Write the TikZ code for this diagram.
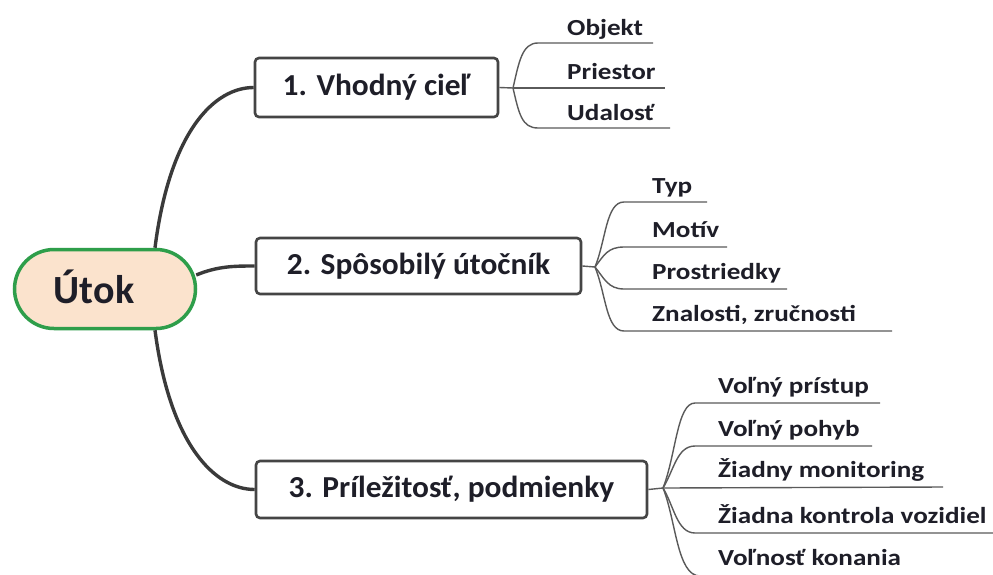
\documentclass[tikz,border=0pt]{standalone}
\usepackage{fontspec}
\setmainfont{Carlito}
\newfontfamily\leaffont{Carlito}[FakeStretch=1.18]
\newfontfamily\boxfont{Carlito}[FakeStretch=1.03]
\usetikzlibrary{shapes.misc,calc}
\definecolor{rootfill}{HTML}{FBE3CD}
\definecolor{rootline}{HTML}{2E9E4A}
\definecolor{boxline}{HTML}{454545}
\definecolor{mainline}{HTML}{3A3A3A}
\definecolor{leafline}{HTML}{5A5A5A}
\definecolor{txt}{HTML}{1E1E28}
\tikzset{
  rootbox/.style={rounded rectangle, draw=rootline, line width=3.5pt, fill=rootfill,
    minimum width=181pt, minimum height=79pt, inner sep=0pt},
  roottxt/.style={font=\fontsize{40}{42}\selectfont\bfseries, text=txt, inner sep=0pt},
  topicbox/.style={draw=boxline, line width=2.6pt, rounded corners=4pt, fill=white,
    inner sep=0pt, font=\boxfont\fontsize{30.5}{32}\selectfont\bfseries, text=txt},
  mainconn/.style={draw=mainline, line width=3.4pt},
  leaf/.style={draw=leafline, line width=1.4pt},
  leaftxt/.style={anchor=base west, inner sep=0pt, font=\leaffont\fontsize{23}{25}\selectfont\bfseries, text=txt}
}
\begin{document}
\begin{tikzpicture}[x=1pt,y=-1pt]
\useasboundingbox[fill=white] (0,0) rectangle (993,574);

% root
\node[rootbox] (root) at (105,289) {};
\node[roottxt] (roottext) at (94,287) {Útok};

% topic boxes
\node[topicbox, minimum width=243pt, minimum height=59pt] (b1) at (376.5,87.5) {1. Vhodný cieľ};
\node[topicbox, minimum width=325pt, minimum height=56pt] (b2) at (418.5,266) {2. Spôsobilý útočník};
\node[topicbox, minimum width=391pt, minimum height=57pt] (b3) at (451.5,489.5) {3. Príležitosť, podmienky};

% main connectors
\draw[mainconn] ($(root.north)+(50,0)$) .. controls (170,130) and (215,87.5) .. (b1.west);
\draw[mainconn] ($(root.east)+(-1,-14)$) .. controls (218,266) and (235,266) .. (b2.west);
\draw[mainconn] ($(root.south)+(50,0)$) .. controls (170,445) and (215,489.5) .. (b3.west);

% ---- group 1
\coordinate (f1) at (513,88);
\coordinate (s11) at (538,43);  \coordinate (e11) at (653,43);
\coordinate (e12) at (665,88);
\coordinate (s13) at (538,128); \coordinate (e13) at (670,128);
\draw[leaf] (b1.east) -- (f1);
\draw[leaf] (f1) .. controls (519,62) and (522,43) .. (s11) -- (e11);
\draw[leaf] (f1) -- (e12);
\draw[leaf] (f1) .. controls (519,114) and (522,128) .. (s13) -- (e13);
\node[leaftxt] (l11) at (567,35) {Objekt};
\node[leaftxt] (l12) at (567,79) {Priestor};
\node[leaftxt] (l13) at (567,120) {Udalosť};

% ---- group 2
\coordinate (f2) at (595,267);
\coordinate (s21) at (624,202); \coordinate (e21) at (707,202);
\coordinate (s22) at (624,247); \coordinate (e22) at (727,247);
\coordinate (s23) at (624,289); \coordinate (e23) at (787,289);
\coordinate (s24) at (624,331); \coordinate (e24) at (892,331);
\draw[leaf] (b2.east) -- (f2);
\draw[leaf] (f2) .. controls (606,240) and (606,202) .. (s21) -- (e21);
\draw[leaf] (f2) .. controls (604,255) and (608,247) .. (s22) -- (e22);
\draw[leaf] (f2) .. controls (604,278) and (608,289) .. (s23) -- (e23);
\draw[leaf] (f2) .. controls (606,294) and (606,331) .. (s24) -- (e24);
\node[leaftxt] (l21) at (652,193) {Typ};
\node[leaftxt] (l22) at (652,237) {Motív};
\node[leaftxt] (l23) at (652,279) {Prostriedky};
\node[leaftxt] (l24) at (652,321) {Znalosti, zručnosti};

% ---- group 3
\coordinate (f3) at (663,488);
\coordinate (s31) at (695,403); \coordinate (e31) at (880,403);
\coordinate (s32) at (695,446); \coordinate (e32) at (872,446);
\coordinate (e33) at (943,487);
\coordinate (s34) at (695,533); \coordinate (e34) at (993,533);
\coordinate (s35) at (700,576);
\draw[leaf] (b3.east) -- (f3);
\draw[leaf] (f3) .. controls (676,455) and (677,403) .. (s31) -- (e31);
\draw[leaf] (f3) .. controls (674,470) and (677,446) .. (s32) -- (e32);
\draw[leaf] (f3) -- (e33);
\draw[leaf] (f3) .. controls (674,506) and (677,533) .. (s34) -- (e34);
\draw[leaf] (f3) .. controls (676,520) and (677,576) .. (s35);
\node[leaftxt] (l31) at (718,393) {Voľný prístup};
\node[leaftxt] (l32) at (718,436) {Voľný pohyb};
\node[leaftxt] (l33) at (718,477) {Žiadny monitoring};
\node[leaftxt] (l34) at (718,523) {Žiadna kontrola vozidiel};
\node[leaftxt] (l35) at (718,565) {Voľnosť konania};
\end{tikzpicture}
\end{document}
